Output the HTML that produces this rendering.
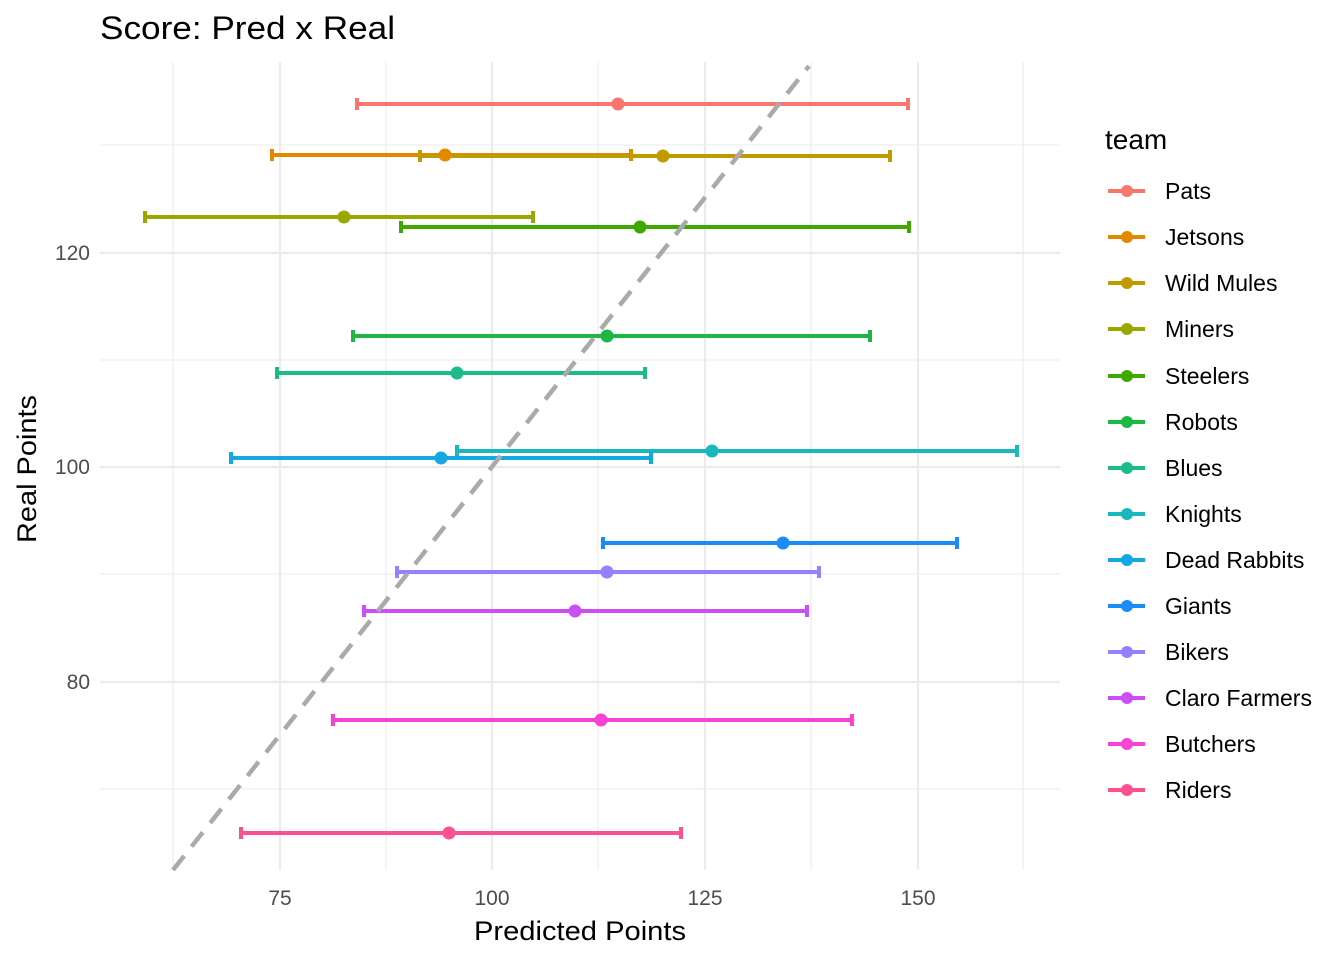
<!DOCTYPE html>
<html><head><meta charset="utf-8"><style>body{margin:0;background:#fff}svg{display:block;font-family:"Liberation Sans",Arial,sans-serif}</style></head><body>
<svg width="1344" height="960" viewBox="0 0 1344 960">
<rect width="1344" height="960" fill="#fff"/>
<g stroke="#ebebeb" stroke-width="1.1">
<line x1="173" y1="62" x2="173" y2="870"/><line x1="386" y1="62" x2="386" y2="870"/><line x1="598" y1="62" x2="598" y2="870"/><line x1="811" y1="62" x2="811" y2="870"/><line x1="1023" y1="62" x2="1023" y2="870"/>
<line x1="100" y1="145" x2="1060" y2="145"/><line x1="100" y1="360" x2="1060" y2="360"/><line x1="100" y1="574" x2="1060" y2="574"/><line x1="100" y1="789" x2="1060" y2="789"/>
</g>
<g stroke="#ebebeb" stroke-width="2.2">
<line x1="280" y1="62" x2="280" y2="870"/><line x1="492" y1="62" x2="492" y2="870"/><line x1="705" y1="62" x2="705" y2="870"/><line x1="918" y1="62" x2="918" y2="870"/>
<line x1="100" y1="253" x2="1060" y2="253"/><line x1="100" y1="467" x2="1060" y2="467"/><line x1="100" y1="682" x2="1060" y2="682"/>
</g>
<g stroke-width="4" fill="none">
<g stroke="#F8766D"><line x1="357" y1="104" x2="908" y2="104"/><line x1="357" y1="98" x2="357" y2="110"/><line x1="908" y1="98" x2="908" y2="110"/></g>
<g stroke="#E38900"><line x1="272" y1="155" x2="631" y2="155"/><line x1="272" y1="149" x2="272" y2="161"/><line x1="631" y1="149" x2="631" y2="161"/></g>
<g stroke="#C09B00"><line x1="420" y1="156" x2="890" y2="156"/><line x1="420" y1="150" x2="420" y2="162"/><line x1="890" y1="150" x2="890" y2="162"/></g>
<g stroke="#99A800"><line x1="145" y1="217" x2="533" y2="217"/><line x1="145" y1="211" x2="145" y2="223"/><line x1="533" y1="211" x2="533" y2="223"/></g>
<g stroke="#3EA800"><line x1="401" y1="227" x2="909" y2="227"/><line x1="401" y1="221" x2="401" y2="233"/><line x1="909" y1="221" x2="909" y2="233"/></g>
<g stroke="#1DB843"><line x1="353" y1="336" x2="870" y2="336"/><line x1="353" y1="330" x2="353" y2="342"/><line x1="870" y1="330" x2="870" y2="342"/></g>
<g stroke="#1EBB8A"><line x1="277" y1="373" x2="645" y2="373"/><line x1="277" y1="367" x2="277" y2="379"/><line x1="645" y1="367" x2="645" y2="379"/></g>
<g stroke="#18B8BE"><line x1="457" y1="451" x2="1017" y2="451"/><line x1="457" y1="445" x2="457" y2="457"/><line x1="1017" y1="445" x2="1017" y2="457"/></g>
<g stroke="#14A8E0"><line x1="231" y1="458" x2="651" y2="458"/><line x1="231" y1="452" x2="231" y2="464"/><line x1="651" y1="452" x2="651" y2="464"/></g>
<g stroke="#1A8CF8"><line x1="603" y1="543" x2="957" y2="543"/><line x1="603" y1="537" x2="603" y2="549"/><line x1="957" y1="537" x2="957" y2="549"/></g>
<g stroke="#9580FF"><line x1="397" y1="572" x2="819" y2="572"/><line x1="397" y1="566" x2="397" y2="578"/><line x1="819" y1="566" x2="819" y2="578"/></g>
<g stroke="#CE4EF5"><line x1="364" y1="611" x2="807" y2="611"/><line x1="364" y1="605" x2="364" y2="617"/><line x1="807" y1="605" x2="807" y2="617"/></g>
<g stroke="#F842D6"><line x1="333" y1="720" x2="852" y2="720"/><line x1="333" y1="714" x2="333" y2="726"/><line x1="852" y1="714" x2="852" y2="726"/></g>
<g stroke="#FC5092"><line x1="241" y1="833" x2="681" y2="833"/><line x1="241" y1="827" x2="241" y2="839"/><line x1="681" y1="827" x2="681" y2="839"/></g>
</g>
<g>
<circle cx="618" cy="104" r="6.5" fill="#F8766D"/><circle cx="445" cy="155" r="6.5" fill="#E38900"/><circle cx="663" cy="156" r="6.5" fill="#C09B00"/><circle cx="344" cy="217" r="6.5" fill="#99A800"/><circle cx="640" cy="227" r="6.5" fill="#3EA800"/><circle cx="607" cy="336" r="6.5" fill="#1DB843"/><circle cx="457" cy="373" r="6.5" fill="#1EBB8A"/><circle cx="712" cy="451" r="6.5" fill="#18B8BE"/><circle cx="441" cy="458" r="6.5" fill="#14A8E0"/><circle cx="783" cy="543" r="6.5" fill="#1A8CF8"/><circle cx="607" cy="572" r="6.5" fill="#9580FF"/><circle cx="575" cy="611" r="6.5" fill="#CE4EF5"/><circle cx="601" cy="720" r="6.5" fill="#F842D6"/><circle cx="449" cy="833" r="6.5" fill="#FC5092"/>
</g>
<line x1="173" y1="870" x2="809" y2="66" stroke="#aaaaaa" stroke-width="4.5" stroke-dasharray="18,12"/>
<g font-size="21" fill="#4d4d4d">
<text x="280" y="905" text-anchor="middle">75</text><text x="492" y="905" text-anchor="middle">100</text><text x="705" y="905" text-anchor="middle">125</text><text x="918" y="905" text-anchor="middle">150</text>
<text x="90" y="260" text-anchor="end">120</text><text x="90" y="474" text-anchor="end">100</text><text x="90" y="689" text-anchor="end">80</text>
</g>
<text x="474" y="940" font-size="27" textLength="212" lengthAdjust="spacingAndGlyphs" fill="#000">Predicted Points</text>
<text transform="translate(36,543) rotate(-90)" font-size="27" textLength="148" lengthAdjust="spacingAndGlyphs" fill="#000">Real Points</text>
<text x="100" y="39" font-size="32" textLength="295" lengthAdjust="spacingAndGlyphs" fill="#000">Score: Pred x Real</text>
<text x="1105" y="149" font-size="28" fill="#000">team</text>
<g font-size="23" fill="#000">
<g transform="translate(0,191)"><line x1="1108" x2="1145" stroke="#F8766D" stroke-width="4"/><circle cx="1127" r="6" fill="#F8766D"/><text x="1165" y="8">Pats</text></g>
<g transform="translate(0,237)"><line x1="1108" x2="1145" stroke="#E38900" stroke-width="4"/><circle cx="1127" r="6" fill="#E38900"/><text x="1165" y="8">Jetsons</text></g>
<g transform="translate(0,283)"><line x1="1108" x2="1145" stroke="#C09B00" stroke-width="4"/><circle cx="1127" r="6" fill="#C09B00"/><text x="1165" y="8">Wild Mules</text></g>
<g transform="translate(0,329)"><line x1="1108" x2="1145" stroke="#99A800" stroke-width="4"/><circle cx="1127" r="6" fill="#99A800"/><text x="1165" y="8">Miners</text></g>
<g transform="translate(0,376)"><line x1="1108" x2="1145" stroke="#3EA800" stroke-width="4"/><circle cx="1127" r="6" fill="#3EA800"/><text x="1165" y="8">Steelers</text></g>
<g transform="translate(0,422)"><line x1="1108" x2="1145" stroke="#1DB843" stroke-width="4"/><circle cx="1127" r="6" fill="#1DB843"/><text x="1165" y="8">Robots</text></g>
<g transform="translate(0,468)"><line x1="1108" x2="1145" stroke="#1EBB8A" stroke-width="4"/><circle cx="1127" r="6" fill="#1EBB8A"/><text x="1165" y="8">Blues</text></g>
<g transform="translate(0,514)"><line x1="1108" x2="1145" stroke="#18B8BE" stroke-width="4"/><circle cx="1127" r="6" fill="#18B8BE"/><text x="1165" y="8">Knights</text></g>
<g transform="translate(0,560)"><line x1="1108" x2="1145" stroke="#14A8E0" stroke-width="4"/><circle cx="1127" r="6" fill="#14A8E0"/><text x="1165" y="8">Dead Rabbits</text></g>
<g transform="translate(0,606)"><line x1="1108" x2="1145" stroke="#1A8CF8" stroke-width="4"/><circle cx="1127" r="6" fill="#1A8CF8"/><text x="1165" y="8">Giants</text></g>
<g transform="translate(0,652)"><line x1="1108" x2="1145" stroke="#9580FF" stroke-width="4"/><circle cx="1127" r="6" fill="#9580FF"/><text x="1165" y="8">Bikers</text></g>
<g transform="translate(0,698)"><line x1="1108" x2="1145" stroke="#CE4EF5" stroke-width="4"/><circle cx="1127" r="6" fill="#CE4EF5"/><text x="1165" y="8">Claro Farmers</text></g>
<g transform="translate(0,744)"><line x1="1108" x2="1145" stroke="#F842D6" stroke-width="4"/><circle cx="1127" r="6" fill="#F842D6"/><text x="1165" y="8">Butchers</text></g>
<g transform="translate(0,790)"><line x1="1108" x2="1145" stroke="#FC5092" stroke-width="4"/><circle cx="1127" r="6" fill="#FC5092"/><text x="1165" y="8">Riders</text></g>
</g>
</svg>
</body></html>
